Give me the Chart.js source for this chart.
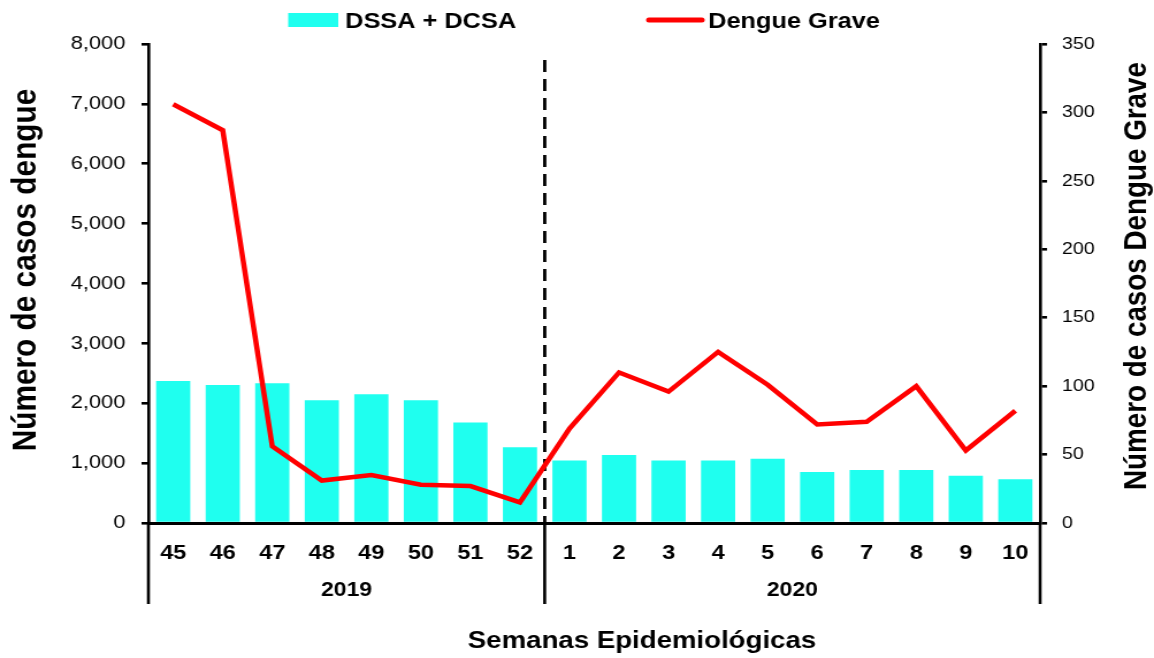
<!DOCTYPE html>
<html>
<head>
<meta charset="utf-8">
<script src="https://cdn.jsdelivr.net/npm/chart.js@4"></script>
<style>
  body { margin: 0; background: #fff; }
  #chart { display: block; }
</style>
</head>
<body>
<!-- the chart is drawn narrower and stretched wide, like the source picture -->
<canvas id="chart" width="1003" height="658" style="width:1154px;height:658px"></canvas>
<script>
const weeks = ['45', '46', '47', '48', '49', '50', '51', '52', '1', '2', '3', '4', '5', '6', '7', '8', '9', '10'];
const weekYear = ['2019', '2019', '2019', '2019', '2019', '2019', '2019', '2019',
    '2020', '2020', '2020', '2020', '2020', '2020', '2020', '2020', '2020', '2020'];
const dssaDcsa = [2370, 2305, 2335, 2050, 2150, 2050, 1680, 1265, 1045, 1135, 1045, 1045, 1075, 850, 885, 885, 790, 730];
const dengueGrave = [306, 287, 56, 31, 35, 28, 27, 15, 69, 110, 96, 125, 101, 72, 74, 100, 53, 82];

const FONT = '"Liberation Sans", Arial, sans-serif';

// legend, titles, year groups and the dashed year break
const extras = {
    id: 'extras',
    beforeDatasetsDraw(chart) {
        const { ctx, chartArea, scales: { x } } = chart;
        const breakAt = weekYear.findIndex(y => y !== weekYear[0]);
        const bx = (x.getPixelForValue(breakAt - 1) + x.getPixelForValue(breakAt)) / 2;
        ctx.save();
        ctx.strokeStyle = '#000';
        ctx.lineWidth = 2.8;
        ctx.setLineDash([12, 7]);
        ctx.beginPath();
        ctx.moveTo(bx, 60);
        ctx.lineTo(bx, chartArea.bottom);
        ctx.stroke();
        ctx.restore();
    },
    afterDraw(chart) {
        const { ctx, chartArea, scales: { x } } = chart;
        ctx.save();
        ctx.fillStyle = '#000';

        // year groups under the week labels
        const half = (x.getPixelForValue(1) - x.getPixelForValue(0)) / 2;
        const years = [...new Set(weekYear)];
        const edges = [];
        ctx.font = 'bold 20px ' + FONT;
        ctx.textAlign = 'center';
        ctx.textBaseline = 'middle';
        years.forEach(yr => {
            const first = weekYear.indexOf(yr);
            const last = weekYear.lastIndexOf(yr);
            const x0 = x.getPixelForValue(first) - half;
            const x1 = x.getPixelForValue(last) + half;
            edges.push(x0, x1);
            ctx.fillText(yr, (x0 + x1) / 2, 590);
        });
        ctx.strokeStyle = '#000';
        ctx.lineWidth = 2.6;
        [...new Set(edges.map(e => Math.round(e * 10) / 10))].forEach(e => {
            ctx.beginPath();
            ctx.moveTo(e, chartArea.bottom);
            ctx.lineTo(e, 604);
            ctx.stroke();
        });

        // axis titles
        ctx.font = 'bold 24px ' + FONT;
        ctx.fillText('Semanas Epidemiológicas', 558, 641);

        ctx.save();
        ctx.translate(22.5, 270);
        ctx.rotate(-Math.PI / 2);
        ctx.font = 'bold 29.8px ' + FONT;
        ctx.fillText('Número de casos dengue', 0, 0);
        ctx.restore();

        ctx.save();
        ctx.translate(988, 276);
        ctx.rotate(-Math.PI / 2);
        ctx.font = 'bold 27.8px ' + FONT;
        ctx.fillText('Número de casos Dengue Grave', 0, 0);
        ctx.restore();

        // legend
        const [lineSet, barSet] = chart.data.datasets;
        ctx.font = 'bold 22px ' + FONT;
        ctx.textAlign = 'left';
        ctx.fillStyle = barSet.backgroundColor;
        ctx.fillRect(250.5, 13, 43.5, 14);
        ctx.fillStyle = '#000';
        ctx.fillText(barSet.label, 300, 21.5);

        ctx.strokeStyle = lineSet.borderColor;
        ctx.lineWidth = 5;
        ctx.lineCap = 'round';
        ctx.beginPath();
        ctx.moveTo(564, 20);
        ctx.lineTo(610, 20);
        ctx.stroke();
        ctx.fillText(lineSet.label, 615.5, 21.5);
        ctx.restore();
    }
};

new Chart(document.getElementById('chart'), {
    type: 'bar',
    data: {
        labels: weeks,
        datasets: [
            {
                type: 'line',
                label: 'Dengue Grave',
                data: dengueGrave,
                borderColor: '#FF0000',
                borderWidth: 4.5,
                pointRadius: 0,
                tension: 0,
                yAxisID: 'y1',
                order: 0
            },
            {
                label: 'DSSA + DCSA',
                data: dssaDcsa,
                backgroundColor: '#1FFFEF',
                barPercentage: 0.69,
                categoryPercentage: 1,
                yAxisID: 'y',
                order: 1
            }
        ]
    },
    options: {
        responsive: false,
        devicePixelRatio: 1,
        animation: false,
        layout: { padding: { top: 44, left: 0, right: 0, bottom: 0 } },
        plugins: {
            legend: { display: false },
            tooltip: { enabled: false }
        },
        scales: {
            x: {
                afterFit: s => { s.height = 135; },
                grid: { display: false },
                border: { color: '#000', width: 3 },
                ticks: {
                    color: '#000',
                    padding: 10,
                    maxRotation: 0,
                    font: { family: FONT, size: 20.5, weight: 'bold' }
                }
            },
            y: {
                position: 'left',
                min: 0,
                max: 8000,
                afterFit: s => { s.width = 129; },
                grid: { drawOnChartArea: false, color: '#000', tickLength: 6, lineWidth: 2.6 },
                border: { color: '#000', width: 2.6 },
                ticks: {
                    stepSize: 1000,
                    color: '#000',
                    padding: 14,
                    font: { family: FONT, size: 19 },
                    callback: v => v.toLocaleString('en-US')
                }
            },
            y1: {
                position: 'right',
                min: 0,
                max: 350,
                afterFit: s => { s.width = 99; },
                grid: { drawOnChartArea: false, color: '#000', tickLength: 6, lineWidth: 2.6 },
                border: { color: '#000', width: 2.6 },
                ticks: {
                    stepSize: 50,
                    color: '#000',
                    padding: 13,
                    font: { family: FONT, size: 17 }
                }
            }
        }
    },
    plugins: [extras]
});
</script>
</body>
</html>
